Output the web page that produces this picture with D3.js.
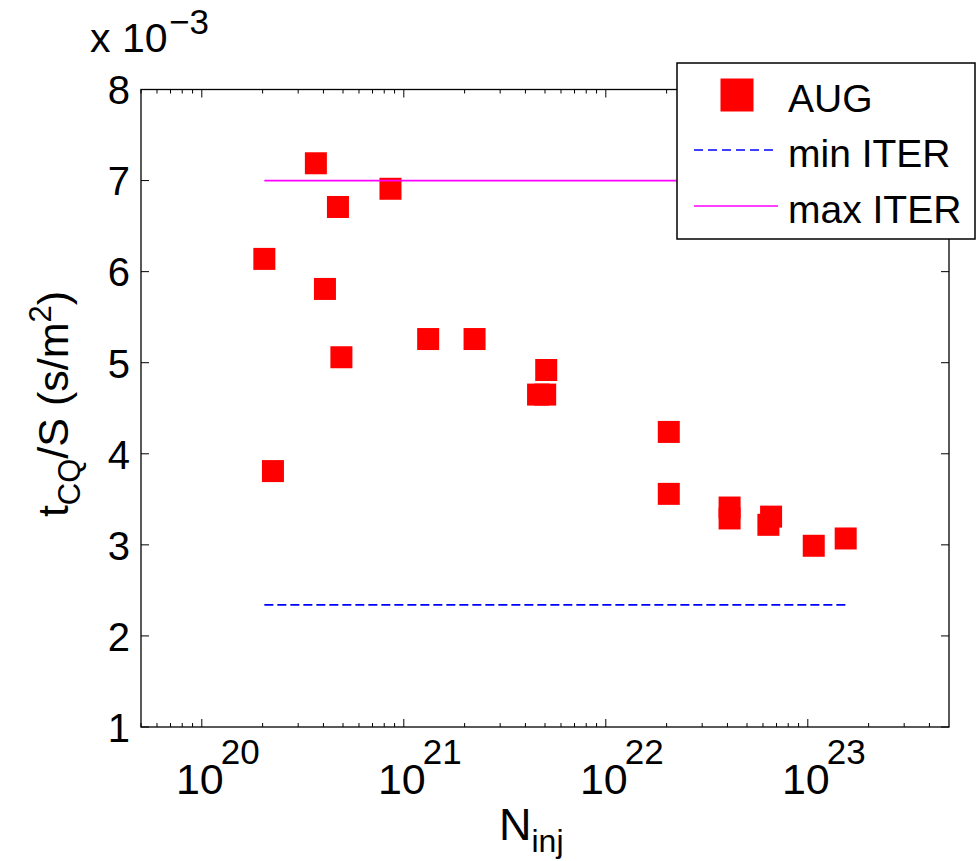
<!DOCTYPE html>
<html>
<head>
<meta charset="utf-8">
<script src="https://cdn.jsdelivr.net/npm/d3@7"></script>
<style>
  html, body { margin: 0; padding: 0; background: #fff; }
  svg { display: block; font-family: "Liberation Sans", Arial, Helvetica, sans-serif; }
</style>
</head>
<body>
<svg id="chart" width="977" height="861"></svg>
<script>
// ---- data (values of t_CQ/S in units of 1e-3 s/m^2) ----
const nInj = [2.04e20, 2.25e20, 3.67e20, 4.07e20, 4.72e20, 4.91e20, 8.59e20,
              1.32e21, 2.24e21, 5.07e21, 4.62e21, 5.01e21,
              2.05e22, 2.05e22, 4.10e22, 4.10e22, 6.58e22, 6.38e22, 1.07e23, 1.54e23];
const tcqS = [6.14, 3.81, 7.19, 5.81, 6.71, 5.06, 6.91,
              5.26, 5.26, 4.92, 4.65, 4.65,
              4.24, 3.56, 3.41, 3.29, 3.31, 3.22, 2.99, 3.07];
const minITER = 2.34;
const maxITER = 7.0;
const xDomain = [5e19, 5e23];
const yDomain = [1, 8];
const yTicks = [1, 2, 3, 4, 5, 6, 7, 8];
const xMajorTicks = [1e20, 1e21, 1e22, 1e23];
const xMajorExp = ["20", "21", "22", "23"];
const legendLabels = ["AUG", "min ITER", "max ITER"];

// ---- layout ----
const L = 141, R = 949, T = 89.5, B = 727;
const svg = d3.select("#chart");
const x = d3.scaleLog().domain(xDomain).range([L, R]);
const y = d3.scaleLinear().domain(yDomain).range([B, T]);

// minor ticks
const xMinor = [];
for (let d = 19; d <= 23; d++) {
  for (let k = 2; k <= 9; k++) {
    const v = k * Math.pow(10, d);
    if (v >= xDomain[0] && v <= xDomain[1]) xMinor.push(v);
  }
}

const g = svg.append("g");

// axis box
g.append("rect").attr("x", L).attr("y", T).attr("width", R - L).attr("height", B - T)
  .attr("fill", "none").attr("stroke", "#000").attr("stroke-width", 1.3);

// x ticks (bottom + top, inward)
const tickG = g.append("g").attr("stroke", "#000").attr("stroke-width", 1);
xMinor.forEach(v => {
  const px = x(v);
  tickG.append("line").attr("x1", px).attr("x2", px).attr("y1", B).attr("y2", B - 4);
  tickG.append("line").attr("x1", px).attr("x2", px).attr("y1", T).attr("y2", T + 4);
});
xMajorTicks.forEach(v => {
  const px = x(v);
  tickG.append("line").attr("x1", px).attr("x2", px).attr("y1", B).attr("y2", B - 8);
  tickG.append("line").attr("x1", px).attr("x2", px).attr("y1", T).attr("y2", T + 8);
});
yTicks.forEach(v => {
  const py = y(v);
  tickG.append("line").attr("x1", L).attr("x2", L + 8).attr("y1", py).attr("y2", py);
  tickG.append("line").attr("x1", R).attr("x2", R - 8).attr("y1", py).attr("y2", py);
});

// y tick labels
yTicks.forEach(v => {
  g.append("text").attr("x", 130).attr("y", y(v)).attr("dy", "0.37em")
    .attr("text-anchor", "end").attr("font-size", 40).text(d3.format("d")(v));
});

// x tick labels 10^n
xMajorTicks.forEach((v, i) => {
  const px = x(v);
  g.append("text").attr("x", px - 2).attr("y", 794).attr("text-anchor", "middle")
    .attr("font-size", 43).text("10");
  g.append("text").attr("x", px + 19).attr("y", 764).attr("text-anchor", "start")
    .attr("font-size", 35).text(xMajorExp[i]);
});

// exponent label
g.append("text").attr("x", 90).attr("y", 52).attr("font-size", 41).text("x 10");
g.append("text").attr("x", 169).attr("y", 34).attr("font-size", 35).text("\u22123");

// axis labels
const xl = g.append("text").attr("x", 499).attr("y", 840).attr("font-size", 45);
xl.append("tspan").text("N");
xl.append("tspan").attr("font-size", 32).attr("dy", 12).text("inj");

const yl = g.append("text").attr("transform", "translate(68,404) rotate(-90)")
  .attr("text-anchor", "middle").attr("font-size", 43);
yl.append("tspan").text("t");
yl.append("tspan").attr("font-size", 31).attr("dy", 12).text("CQ");
yl.append("tspan").attr("dy", -12).text("/S (s/m");
yl.append("tspan").attr("font-size", 31).attr("dy", -17).text("2");
yl.append("tspan").attr("dy", 17).text(")");

// markers
const ms = 22;
g.append("g").selectAll("rect").data(nInj.map((n, i) => [n, tcqS[i]])).join("rect")
  .attr("x", d => x(d[0]) - ms / 2).attr("y", d => y(d[1]) - ms / 2)
  .attr("width", ms).attr("height", ms).attr("fill", "#ff0000");

// ITER lines spanning the data range
const nExt = d3.extent(nInj);
g.append("line").attr("x1", x(nExt[0])).attr("x2", x(nExt[1]))
  .attr("y1", y(minITER)).attr("y2", y(minITER))
  .attr("stroke", "#0000ff").attr("stroke-width", 1.8).attr("stroke-dasharray", "9,4");
g.append("line").attr("x1", x(nExt[0])).attr("x2", x(nExt[1]))
  .attr("y1", y(maxITER)).attr("y2", y(maxITER))
  .attr("stroke", "#ff00ff").attr("stroke-width", 1.8);

// legend
const lg = g.append("g");
lg.append("rect").attr("x", 677).attr("y", 63).attr("width", 298).attr("height", 176)
  .attr("fill", "#fff").attr("stroke", "#000").attr("stroke-width", 1.5);
lg.append("rect").attr("x", 737 - 16.5).attr("y", 95 - 16.5).attr("width", 33).attr("height", 33)
  .attr("fill", "#ff0000");
lg.append("line").attr("x1", 694).attr("x2", 778).attr("y1", 150).attr("y2", 150)
  .attr("stroke", "#0000ff").attr("stroke-width", 1.5).attr("stroke-dasharray", "9,5");
lg.append("line").attr("x1", 694).attr("x2", 778).attr("y1", 206).attr("y2", 206)
  .attr("stroke", "#ff00ff").attr("stroke-width", 1.5);
[112, 167, 223].forEach((by, i) => {
  lg.append("text").attr("x", 788).attr("y", by).attr("font-size", 39).text(legendLabels[i]);
});
</script>
</body>
</html>
